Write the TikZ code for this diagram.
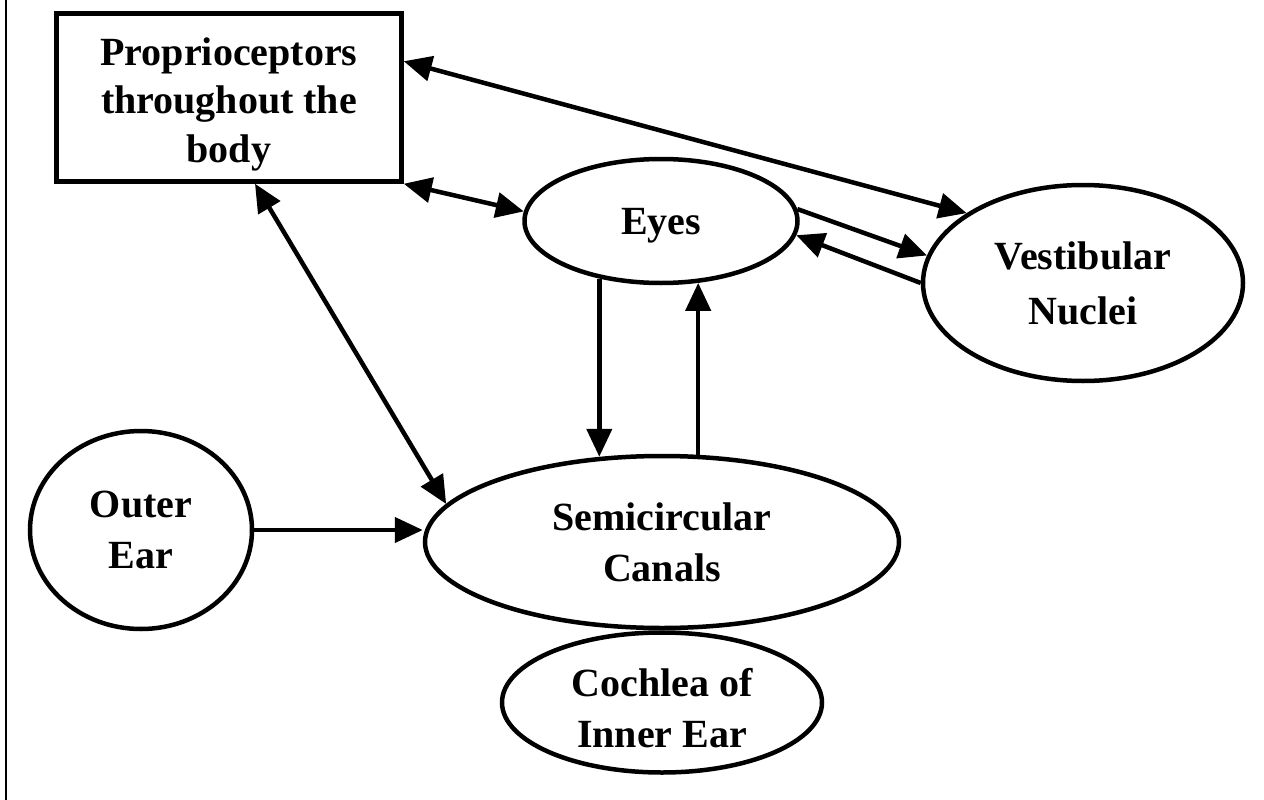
\documentclass[tikz,border=0pt]{standalone}
\usepackage{fontspec}
\setmainfont{Liberation Serif}
\usepackage{tikz}
\usetikzlibrary{arrows.meta,positioning,shapes.geometric}

\begin{document}
\begin{tikzpicture}[
    x=1pt, y=-1pt,
    basenode/.style={draw, line width=4.5pt, align=center,
                     font=\fontsize{40}{51}\selectfont\bfseries},
    boxnode/.style={basenode, rectangle, inner sep=0pt,
                    font=\fontsize{40}{48.5}\selectfont\bfseries},
    ovalnode/.style={basenode, ellipse, inner sep=0pt},
    link/.style={-{Triangle[length=28pt, width=25pt]}, line width=4.5pt},
    twolink/.style={{Triangle[length=28pt, width=25pt]}-{Triangle[length=28pt, width=25pt]},
                    line width=4.5pt},
  ]
    \useasboundingbox (0,0) rectangle (1264,800);
    % frame edge on the left
    \draw[line width=2pt] (6,0) -- (6,800);

    % Nodes
    \node[boxnode, minimum width=345pt, minimum height=168pt] (prop) at (229,97.5)
          {\rule{0pt}{41pt}Proprioceptors\\throughout the\\body};
    \node[ovalnode, minimum width=273pt, minimum height=124pt] (eyes) at (661,221)
          {\rule{0pt}{36pt}Eyes};
    \node[ovalnode, minimum width=320pt, minimum height=196pt] (vest) at (1083,283)
          {Vestibular\\[4pt]Nuclei};
    \node[ovalnode, minimum width=474pt, minimum height=172pt] (canals) at (662,542)
          {Semicircular\\Canals};
    \node[ovalnode, minimum width=222pt, minimum height=198pt] (outer) at (141,530)
          {Outer\\Ear};
    \node[ovalnode, minimum width=320pt, minimum height=140pt, below=0pt of canals]
          (cochlea) {\rule{0pt}{40pt}Cochlea of\\Inner Ear};

    % Two-way links of the proprioceptors
    \draw[twolink] ([yshift=-50pt]prop.north east) -- (vest.149);
    \draw[twolink] (prop.south east) -- (eyes.176);
    \draw[twolink] ([xshift=26pt]prop.south) -- (canals.170);

    % Eyes and vestibular nuclei
    \draw[link] (eyes.5) -- (vest.170);
    \draw[link] (vest.west) -- (eyes.354);

    % Eyes and semicircular canals
    \draw[link] (eyes.223) -- (eyes.223 |- canals.126);
    \draw[link] (eyes.301 |- canals.67) -- (eyes.301);

    % Outer ear
    \draw[link] (outer.east) -- (outer.east -| canals.west);
\end{tikzpicture}
\end{document}
